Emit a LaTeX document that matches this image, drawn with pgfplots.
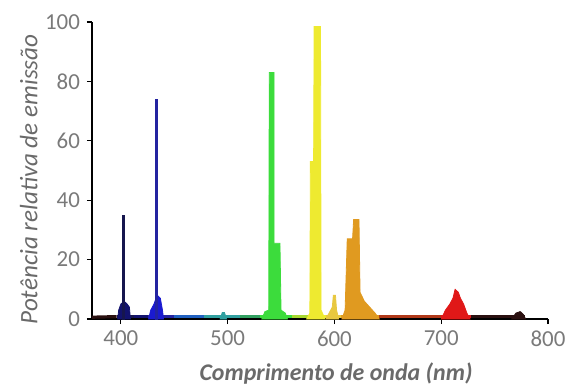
\documentclass[border=0pt]{standalone}
\usepackage{fontspec}
\setmainfont{Carlito}
\usepackage{pgfplots}
\pgfplotsset{compat=1.18}
\definecolor{tickgray}{HTML}{7A7A7A}
\definecolor{labgray}{HTML}{6A6A6A}
\definecolor{cnavy}{HTML}{16164E}
\definecolor{cnavyb}{HTML}{12126E}
\definecolor{cblue}{HTML}{2323A0}
\definecolor{cblueb}{HTML}{1A1AD0}
\definecolor{cmid}{HTML}{2060C0}
\definecolor{cteal}{HTML}{30A0A0}
\definecolor{ctg}{HTML}{30A060}
\definecolor{cgreen}{HTML}{3CDC3C}
\definecolor{cyg}{HTML}{A8D830}
\definecolor{cyellow}{HTML}{EEEA30}
\definecolor{cyo}{HTML}{E8C840}
\definecolor{corange}{HTML}{E09A20}
\definecolor{cbrown}{HTML}{B03818}
\definecolor{cred}{HTML}{E01818}
\definecolor{cdark}{HTML}{2A1010}
\begin{document}
\begin{tikzpicture}
\begin{axis}[
  name=ax,
  scale only axis,
  width=228bp, height=148.5bp,
  xmin=373, xmax=800, ymin=0, ymax=100,
  axis lines=left,
  axis line style={black, line width=1.3bp, -},
  xtick={400,500,...,800}, ytick={0,20,...,100},
  tick style={black, line width=0.6bp},
  tick align=outside,
  major tick length=2.5bp,
  tick label style={font=\fontsize{11.5}{12}\selectfont, text=tickgray},
  /pgf/number format/assume math mode=true,
  xlabel={\textbf{\textit{Comprimento de onda (nm)}}},
  ylabel={\textit{Potência relativa de emissão}},
  xlabel style={font=\fontsize{12}{13}\selectfont, text=labgray, yshift=-1bp, xshift=8bp},
  ylabel style={font=\fontsize{12.6}{13}\selectfont, text=labgray, yshift=-3bp, xshift=-4.5bp},
  clip=false,
]
% baseline segments
\addplot[cdark, line width=1.6bp] coordinates {(373,0.6)(396,0.8)};
\addplot[cnavy, line width=1.6bp] coordinates {(396,0.8)(412,0.8)};
\addplot[cnavyb, line width=1.6bp] coordinates {(412,0.8)(425,0.8)};
\addplot[cblue, line width=1.6bp] coordinates {(425,0.8)(450,0.8)};
\addplot[cmid, line width=1.6bp] coordinates {(450,0.8)(478,0.8)};
\addplot[cteal, line width=1.6bp] coordinates {(478,0.8)(512,0.8)};
\addplot[ctg, line width=1.6bp] coordinates {(512,0.8)(530,0.8)};
\addplot[cgreen, line width=1.6bp] coordinates {(530,0.8)(560,0.8)};
\addplot[cyg, line width=1.6bp] coordinates {(560,0.8)(575,0.8)};
\addplot[cyellow, line width=1.6bp] coordinates {(575,0.8)(592,0.8)};
\addplot[cyo, line width=1.6bp] coordinates {(592,0.8)(606,0.8)};
\addplot[corange, line width=1.6bp] coordinates {(606,0.8)(642,0.8)};
\addplot[cbrown, line width=1.6bp] coordinates {(642,0.8)(700,0.8)};
\addplot[cred, line width=1.6bp] coordinates {(700,0.8)(728,0.8)};
\addplot[cdark, line width=1.6bp] coordinates {(728,0.8)(778,0.8)};
% 404 nm
\addplot[fill=cnavyb, draw=cnavyb] coordinates {(397,0)(398,3)(400,5)(403,6)(406,5)(408,4)(409,0)} \closedcycle;
\addplot[fill=cnavy, draw=cnavy] coordinates {(401.6,0)(401.6,35)(403.4,35)(403.4,0)} \closedcycle;
% 436 nm
\addplot[fill=cblueb, draw=cblueb] coordinates {(426,0)(428,3)(431,5)(434,8)(437,7)(439,3)(440,0)} \closedcycle;
\addplot[fill=cblue, draw=cblue] coordinates {(432.4,0)(432.4,74)(434.6,74)(434.6,0)} \closedcycle;
% 496 nm
\addplot[fill=cteal, draw=cteal] coordinates {(493,0)(495,2.2)(497,2.2)(499,0)} \closedcycle;
% 546 nm
\addplot[fill=cgreen, draw=cgreen] coordinates {(532,0)(535,2.5)(538.5,3)(539,83)(543.5,83)(543.5,25.5)(549,25.5)(550,3)(554,2)(556,0)} \closedcycle;
% 578 nm
\addplot[fill=cyellow, draw=cyellow] coordinates {(574,0)(577,2)(577.5,53)(580.5,53)(581,98.5)(587,98.5)(587.5,3)(590,1)(591,0)} \closedcycle;
% 600 nm
\addplot[fill=cyo, draw=cyo] coordinates {(592,0)(595,2)(598,4)(599,8)(601,8)(602,3)(604,0)} \closedcycle;
% 615 nm
\addplot[fill=corange, draw=corange] coordinates {(607,0)(610,3)(612,27)(617,27)(618,33.5)(623,33.5)(624,9)(628,6)(633,4)(638,2)(642,0)} \closedcycle;
% 712 nm
\addplot[fill=cred, draw=cred] coordinates {(700,0)(704,3)(708,5)(711,7)(713,10)(716,9)(718,7)(721,5)(724,2)(727,0)} \closedcycle;
% 775 nm
\addplot[fill=cdark, draw=cdark] coordinates {(766,0)(770,2)(774,2.5)(777,1.5)(779,0)} \closedcycle;
\end{axis}
\pgfresetboundingbox
\path[use as bounding box] ([xshift=-46bp,yshift=-35.5bp]ax.south west) rectangle ([xshift=10bp,yshift=11bp]ax.north east);
\end{tikzpicture}
\end{document}
